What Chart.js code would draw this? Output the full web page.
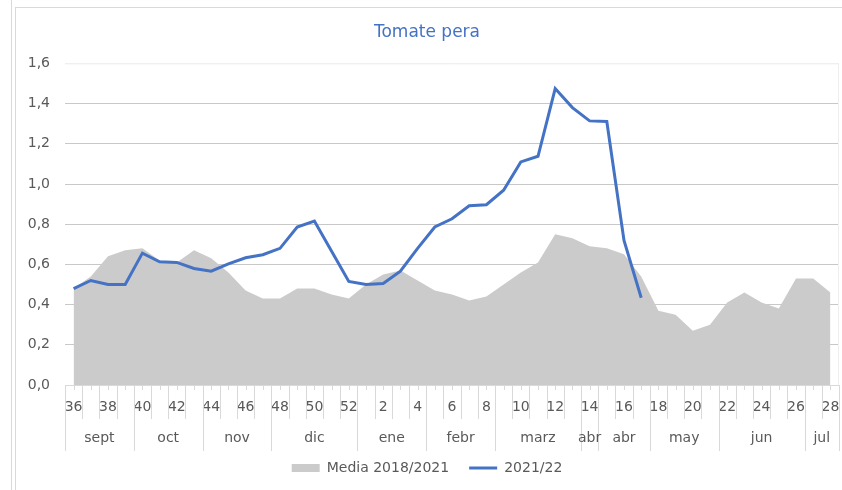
<!DOCTYPE html>
<html>
<head>
<meta charset="utf-8">
<script src="https://cdn.jsdelivr.net/npm/chart.js@4/dist/chart.umd.min.js"></script>
<style>
  body { margin: 0; background: #fff; }
  #wrap { position: relative; width: 842px; height: 490px; }
  .ln { position: absolute; background: #d9d9d9; }
  canvas { position: absolute; left: 0; top: 0; }
</style>
</head>
<body>
<div id="wrap">
  <div class="ln" style="left:11px;top:0;width:1px;height:490px"></div>
  <div class="ln" style="left:15px;top:7px;width:1px;height:483px"></div>
  <div class="ln" style="left:15px;top:7px;width:827px;height:1px"></div>
  <canvas id="myChart" width="842" height="490"></canvas>
</div>
<script>
// weeks of the campaign (tick labels)
const weeks = ['36','37','38','39','40','41','42','43','44','45','46','47','48','49','50','51','52',
  '1','2','3','4','5','6','7','8','9','10','11','12','13','14','15','16','17','18','19','20',
  '21','22','23','24','25','26','27','28']

// month groups under the weeks
const months = ['sept','oct','nov','dic','ene','febr','marz','abr','abr','may','jun','jul']
const monthWeeks = [4, 4, 4, 5, 4, 4, 5, 1, 3, 4, 5, 2]

const media = [0.48,0.54,0.64,0.67,0.68,0.62,0.61,0.67,0.63,0.56,0.47,0.43,0.43,0.48,0.48,0.45,0.43,
  0.50,0.55,0.57,0.52,0.47,0.45,0.42,0.44,0.50,0.56,0.61,0.75,0.73,0.69,0.68,0.65,0.54,0.37,0.35,
  0.27,0.30,0.41,0.46,0.41,0.38,0.53,0.53,0.46]

const season = [0.48,0.52,0.50,0.50,0.656,0.613,0.61,0.58,0.566,0.603,0.633,0.648,0.68,0.786,0.816,0.666,0.515,
  0.50,0.505,0.566,0.68,0.786,0.827,0.892,0.897,0.969,1.11,1.138,1.475,1.38,1.314,1.311,0.719,0.434]

const FONT = 'DejaVu Sans'
const GREY_TXT = '#595959'

// draws the week separators and month labels below the axis
const monthAxis = {
  id: 'monthAxis',
  afterDraw(chart) {
    const {ctx, chartArea} = chart
    const x = chart.scales.x
    const half = (x.getPixelForValue(1) - x.getPixelForValue(0)) / 2
    const b = chartArea.bottom
    ctx.save()
    ctx.lineWidth = 1
    // faint plot border top / right
    ctx.beginPath()
    ctx.strokeStyle = '#efefef'
    ctx.moveTo(chartArea.left, chartArea.top + 0.5)
    ctx.lineTo(chartArea.right - 0.5, chartArea.top + 0.5)
    ctx.lineTo(chartArea.right - 0.5, b)
    ctx.stroke()

    ctx.strokeStyle = '#d9d9d9'
    let bounds = [0]
    monthWeeks.forEach(n => bounds.push(bounds[bounds.length - 1] + n))
    ctx.beginPath()
    for (let k = 0; k <= weeks.length; k++) {
      const px = Math.round(x.getPixelForValue(k) - half) + 0.5
      ctx.moveTo(px, b)
      ctx.lineTo(px, b + (bounds.includes(k) ? 66 : 34))
      if (k < weeks.length) {
        const cx = Math.round(x.getPixelForValue(k)) + 0.5
        ctx.moveTo(cx, b)
        ctx.lineTo(cx, b + 5)
      }
    }
    ctx.stroke()

    ctx.fillStyle = GREY_TXT
    ctx.font = '14px "' + FONT + '"'
    ctx.textAlign = 'center'
    ctx.textBaseline = 'middle'
    months.forEach((m, i) => {
      const a = x.getPixelForValue(bounds[i]) - half
      const e = x.getPixelForValue(bounds[i + 1]) - half
      ctx.fillText(m, (a + e) / 2, b + 53)
    })
    ctx.restore()
  }
}

const ch = document.getElementById('myChart')

new Chart(ch, {
  type: 'line',
  data: {
    labels: weeks,
    datasets: [{
        label: 'Media 2018/2021',
        data: media,
        fill: 'origin',
        backgroundColor: '#cbcbcb',
        borderColor: '#cbcbcb',
        borderWidth: 0,
        pointRadius: 0,
        pointStyle: 'rect',
        tension: 0,
        order: 2,
      }, {
        label: '2021/22',
        data: season,
        fill: false,
        borderColor: '#4472C4',
        backgroundColor: '#4472C4',
        borderWidth: 3,
        pointRadius: 0,
        pointStyle: 'line',
        tension: 0,
        order: 1,
      }],
  },
  options: {
    responsive: false,
    animation: false,
    layout: { padding: { left: 15, right: 3, top: 0, bottom: 5 } },
    plugins: {
      title: {
        display: true,
        text: 'Tomate pera',
        color: '#4472C4',
        font: { family: FONT, size: 17, weight: 'normal' },
        padding: { top: 22, bottom: 21 },
      },
      legend: {
        position: 'bottom',
        labels: {
          usePointStyle: true,
          pointStyleWidth: 28,
          boxHeight: 8,
          padding: 20,
          color: GREY_TXT,
          font: { family: FONT, size: 14 },
          sort: (a, b) => a.datasetIndex - b.datasetIndex,
        },
      },
      tooltip: { enabled: false },
    },
    scales: {
      x: {
        offset: true,
        grid: { drawOnChartArea: false, drawTicks: false, offset: true },
        border: { display: true, color: '#d9d9d9' },
        ticks: {
          autoSkip: false,
          maxRotation: 0,
          padding: 14,
          color: GREY_TXT,
          font: { family: FONT, size: 14 },
          callback: function (v, i) { return i % 2 === 0 ? this.getLabelForValue(v) : '' },
        },
        afterFit: s => {
          s.height = 56
          s.paddingLeft = 0
          s.paddingRight = 0
        },
      },
      y: {
        min: 0,
        max: 1.6,
        grid: {
          drawTicks: false,
          color: c => c.tick.value >= 1.6 ? '#efefef' : '#c8c8c8',
        },
        border: { display: false },
        ticks: {
          stepSize: 0.2,
          padding: 15,
          color: GREY_TXT,
          font: { family: FONT, size: 14 },
          callback: v => v.toFixed(1).replace('.', ','),
        },
        afterFit: s => { s.width = 50 },
      },
    },
  },
  plugins: [monthAxis],
})
</script>
</body>
</html>
